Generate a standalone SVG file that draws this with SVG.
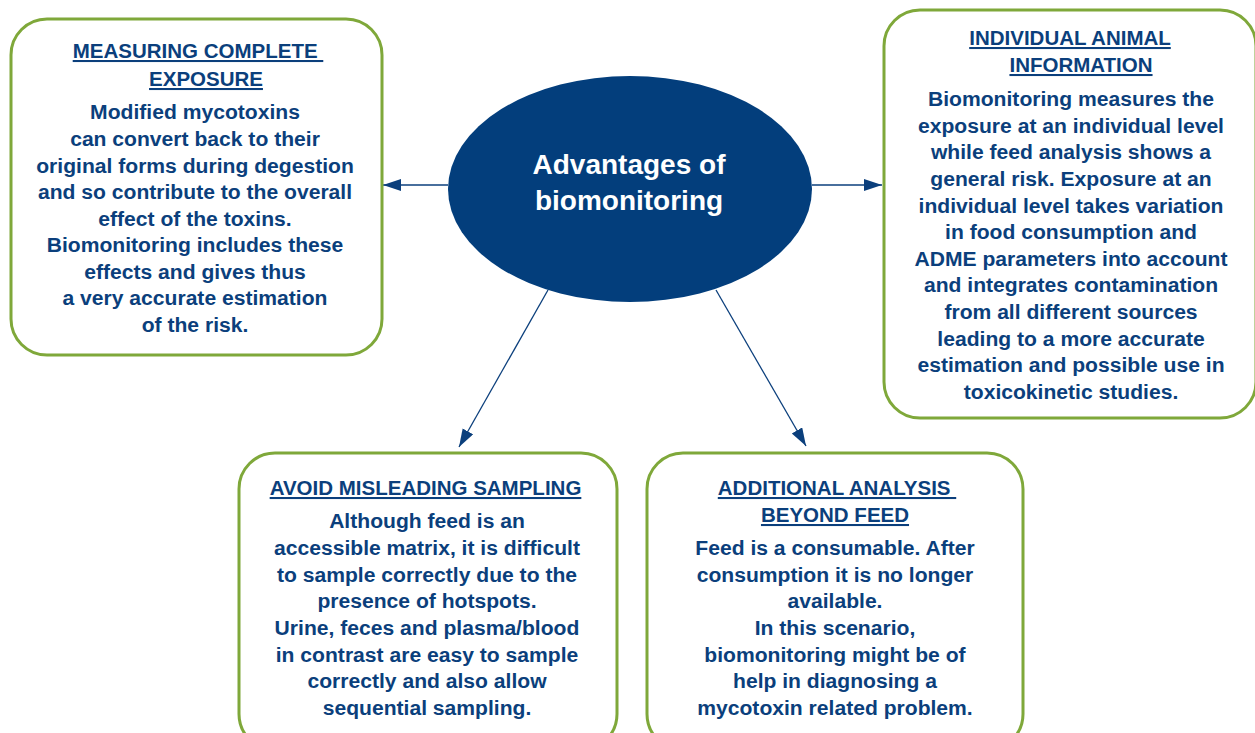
<svg xmlns="http://www.w3.org/2000/svg" width="1255" height="733" viewBox="0 0 1255 733">
  <style>
    .box { fill: #ffffff; stroke: #7fa83a; stroke-width: 3; }
    .hub { fill: #033e7c; }
    .hub-text { font-family: "Liberation Sans", Arial, sans-serif; font-weight: bold; font-size: 28px; fill: #ffffff; text-anchor: middle; }
    .title { font-family: "Liberation Sans", Arial, sans-serif; font-weight: bold; font-size: 20.5px; fill: #0b3f7c; text-anchor: middle; text-decoration: underline; }
    .body { font-family: "Liberation Sans", Arial, sans-serif; font-weight: bold; font-size: 21.1px; fill: #0b3f7c; text-anchor: middle; }
    .link { stroke: #0b3f7c; stroke-width: 1.3; fill: none; marker-end: url(#arrow); }
  </style>
  <defs>
    <marker id="arrow" markerUnits="userSpaceOnUse" markerWidth="20" markerHeight="14" refX="18" refY="6" orient="auto">
      <path d="M0,0 L18,6 L0,12 Z" fill="#0b3f7c"/>
    </marker>
  </defs>

  <rect width="1255" height="733" fill="#ffffff"/>

  <!-- connectors from the central ellipse -->
  <g id="connectors">
    <line class="link" x1="448" y1="185" x2="383" y2="185"/>
    <line class="link" x1="812" y1="185" x2="882" y2="185"/>
    <line class="link" x1="548" y1="290" x2="459" y2="447"/>
    <line class="link" x1="716" y1="290" x2="806" y2="446"/>
  </g>

  <g id="hub">
    <ellipse class="hub" cx="630" cy="189" rx="182" ry="113"/>
    <text class="hub-text" x="629" y="174">Advantages of</text>
    <text class="hub-text" x="629" y="210">biomonitoring</text>
  </g>

  <g id="measuring-complete-exposure">
    <rect class="box" x="11" y="19" width="371" height="336" rx="36" ry="36"/>
    <text class="title" x="198" y="58">MEASURING COMPLETE&#160;</text>
    <text class="title" x="206" y="86">EXPOSURE</text>
    <text class="body" x="195" y="119">Modified mycotoxins</text>
    <text class="body" x="195" y="146">can convert back to their</text>
    <text class="body" x="195" y="172.5">original forms during degestion</text>
    <text class="body" x="195" y="199">and so contribute to the overall</text>
    <text class="body" x="195" y="225.5">effect of the toxins.</text>
    <text class="body" x="195" y="252">Biomonitoring includes these</text>
    <text class="body" x="195" y="278.5">effects and gives thus</text>
    <text class="body" x="195" y="305">a very accurate estimation</text>
    <text class="body" x="195" y="331.5">of the risk.</text>
  </g>

  <g id="individual-animal-information">
    <rect class="box" x="884" y="10" width="372" height="408" rx="36" ry="36"/>
    <text class="title" x="1070" y="45">INDIVIDUAL ANIMAL</text>
    <text class="title" x="1081" y="72">INFORMATION</text>
    <text class="body" x="1071" y="106">Biomonitoring measures the</text>
    <text class="body" x="1071" y="132.5">exposure at an individual level</text>
    <text class="body" x="1071" y="159">while feed analysis shows a</text>
    <text class="body" x="1071" y="186">general risk. Exposure at an</text>
    <text class="body" x="1071" y="212.5">individual level takes variation</text>
    <text class="body" x="1071" y="239">in food consumption and</text>
    <text class="body" x="1071" y="265.5">ADME parameters into account</text>
    <text class="body" x="1071" y="292">and integrates contamination</text>
    <text class="body" x="1071" y="319">from all different sources</text>
    <text class="body" x="1071" y="345.5">leading to a more accurate</text>
    <text class="body" x="1071" y="372">estimation and possible use in</text>
    <text class="body" x="1071" y="399">toxicokinetic studies.</text>
  </g>

  <g id="avoid-misleading-sampling">
    <rect class="box" x="239" y="453" width="378" height="297" rx="36" ry="36"/>
    <text class="title" x="425.5" y="495">AVOID MISLEADING SAMPLING</text>
    <text class="body" x="427" y="528">Although feed is an</text>
    <text class="body" x="427" y="555">accessible matrix, it is difficult</text>
    <text class="body" x="427" y="581.5">to sample correctly due to the</text>
    <text class="body" x="427" y="608">presence of hotspots.</text>
    <text class="body" x="427" y="635">Urine, feces and plasma/blood</text>
    <text class="body" x="427" y="661.5">in contrast are easy to sample</text>
    <text class="body" x="427" y="688">correctly and also allow</text>
    <text class="body" x="427" y="715">sequential sampling.</text>
  </g>

  <g id="additional-analysis-beyond-feed">
    <rect class="box" x="647" y="453" width="376" height="297" rx="36" ry="36"/>
    <text class="title" x="837" y="495">ADDITIONAL ANALYSIS&#160;</text>
    <text class="title" x="835" y="522">BEYOND FEED</text>
    <text class="body" x="835" y="555">Feed is a consumable. After</text>
    <text class="body" x="835" y="582">consumption it is no longer</text>
    <text class="body" x="835" y="608">available.</text>
    <text class="body" x="835" y="635">In this scenario,</text>
    <text class="body" x="835" y="662">biomonitoring might be of</text>
    <text class="body" x="835" y="688">help in diagnosing a</text>
    <text class="body" x="835" y="715">mycotoxin related problem.</text>
  </g>
</svg>
